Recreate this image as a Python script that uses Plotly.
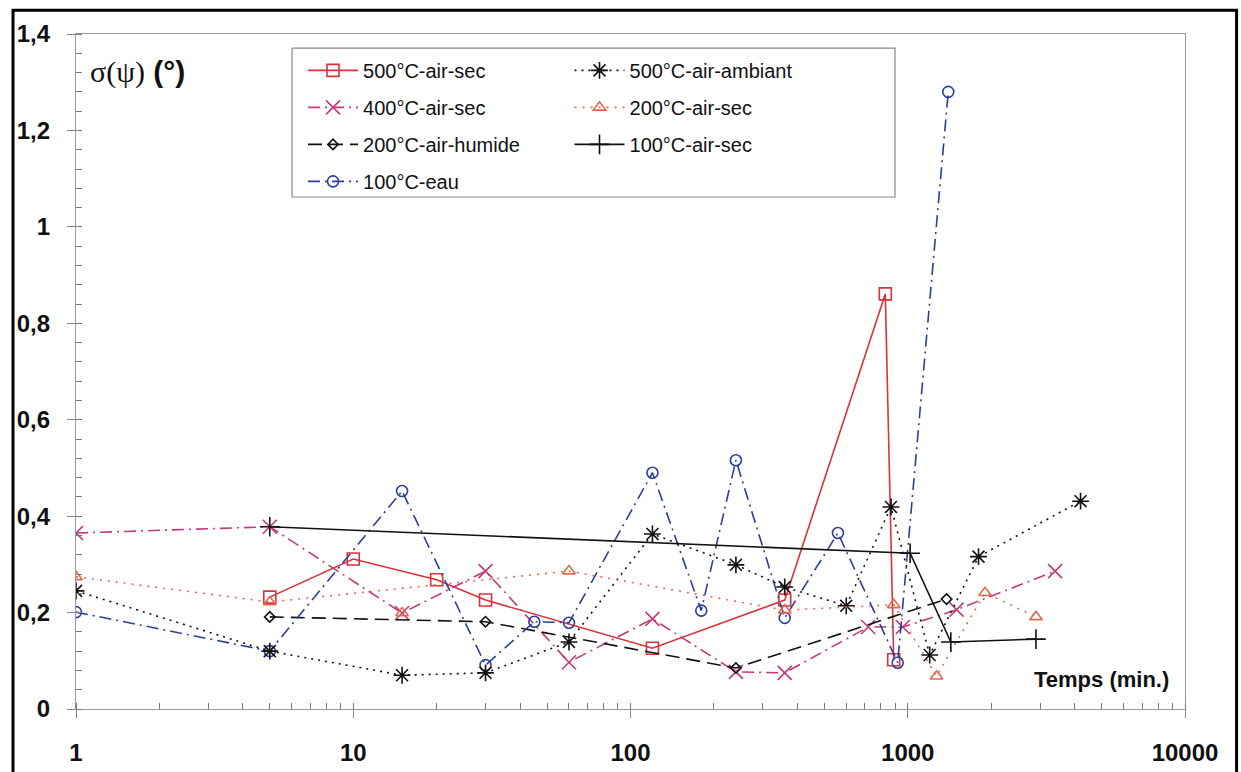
import plotly.graph_objects as go

# temps (min.) et sigma(psi) (°)
x_500_sec = [5, 10, 20, 30, 120, 360, 830, 890]
y_500_sec = [0.232, 0.311, 0.268, 0.226, 0.126, 0.226, 0.861, 0.102]

x_500_amb = [1, 5, 15, 30, 60, 120, 240, 360, 600, 870, 1200, 1800, 4200]
y_500_amb = [0.245, 0.12, 0.07, 0.075, 0.139, 0.363, 0.299, 0.253, 0.214, 0.419, 0.112, 0.316, 0.431]

x_400_sec = [1, 5, 15, 30, 60, 120, 240, 360, 720, 960, 1500, 3400]
y_400_sec = [0.365, 0.378, 0.199, 0.286, 0.097, 0.187, 0.077, 0.075, 0.17, 0.17, 0.206, 0.286]

# le triangle à 15 min n'est pas relié (None = coupure)
x_200_sec = [1, 5, 60, 360, 890, 1270, 1900, 2900, None, 15]
y_200_sec = [0.274, 0.222, 0.286, 0.205, 0.216, 0.068, 0.241, 0.191, None, 0.199]

x_200_hum = [5, 30, 240, 1380]
y_200_hum = [0.191, 0.181, 0.085, 0.228]

x_100_sec = [5, 1020, 1430, 2900]
y_100_sec = [0.378, 0.323, 0.139, 0.145]

x_100_eau = [1, 5, 15, 30, 45, 60, 120, 180, 240, 360, 560, 920, 1400]
y_100_eau = [0.201, 0.12, 0.452, 0.091, 0.181, 0.179, 0.49, 0.204, 0.516, 0.189, 0.365, 0.096, 1.28]

x_ticks = [1, 10, 100, 1000, 10000]
x_ticktext = ["1", "10", "100", "1000", "10000"]

ROUGE = "#d8333a"
MAGENTA = "#c23a7c"
SAUMON = "#e06a50"
BLEU = "#2b3f98"
NOIR = "#111111"
POLICE = "Liberation Sans, Arial, sans-serif"

series = [
    # nom, x, y, couleur, tiret, symbole, taille, légende
    ("500°C-air-sec", x_500_sec, y_500_sec, ROUGE, "solid", "square-open", 12, "legend"),
    ("400°C-air-sec", x_400_sec, y_400_sec, MAGENTA, "12px,5px,2px,5px", "x-thin-open", 14, "legend"),
    ("200°C-air-humide", x_200_hum, y_200_hum, NOIR, "14px,7px", "diamond-open", 8, "legend"),
    ("100°C-eau", x_100_eau, y_100_eau, BLEU, "12px,5px,2px,5px", "circle-open", 11, "legend"),
    ("500°C-air-ambiant", x_500_amb, y_500_amb, NOIR, "2px,5px", "asterisk-open", 14, "legend2"),
    ("200°C-air-sec", x_200_sec, y_200_sec, SAUMON, "2px,6px", "triangle-up-open", 11, "legend2"),
    ("100°C-air-sec", x_100_sec, y_100_sec, NOIR, "solid", "cross-thin-open", 14, "legend2"),
]

fig = go.Figure()
for nom, xs, ys, coul, tiret, symb, taille, leg in series:
    fig.add_trace(go.Scatter(
        x=xs, y=ys, name=nom, mode="lines+markers", legend=leg, legendgroup=nom,
        connectgaps=False,
        line=dict(color=coul, width=1.6, dash=tiret),
        marker=dict(symbol=symb, size=taille, color=coul, line=dict(width=1.6, color=coul)),
    ))

legende = dict(
    bgcolor="rgba(0,0,0,0)", borderwidth=0, tracegroupgap=8,
    font=dict(family=POLICE, size=20, color="#111"),
    xanchor="left", yanchor="top", itemwidth=50,
)

fig.update_layout(
    width=1241, height=772,
    margin=dict(l=76, r=56, t=34, b=63),
    paper_bgcolor="white", plot_bgcolor="white",
    separators=", ",
    showlegend=True,
    legend=dict(legende, x=0.2047, y=0.975),
    legend2=dict(legende, x=0.445, y=0.975),
    xaxis=dict(
        type="log", range=[0, 4], tickvals=x_ticks, ticktext=x_ticktext,
        showgrid=False, zeroline=False, automargin=False,
        showline=True, linecolor="#999", linewidth=1.2, mirror=True,
        ticks="outside", ticklen=8, tickcolor="#888", ticklabelstandoff=14,
        tickfont=dict(family=POLICE, size=24, color="#111", weight="bold"),
        minor=dict(ticks="inside", ticklen=6, tickcolor="#777", dtick="D1", showgrid=False),
    ),
    yaxis=dict(
        range=[0, 1.4], dtick=0.2,
        showgrid=False, zeroline=False, automargin=False,
        showline=True, linecolor="#999", linewidth=1.2, mirror=True,
        ticks="outside", ticklen=8, tickcolor="#888", ticklabelstandoff=12,
        tickfont=dict(family=POLICE, size=24, color="#111", weight="bold"),
        minor=dict(ticks="inside", ticklen=6, tickcolor="#777", dtick=0.04, showgrid=False),
    ),
    shapes=[
        # cadre de la légende
        dict(type="rect", xref="paper", yref="paper", x0=0.1948, x1=0.7385, y0=0.7585, y1=0.979,
             line=dict(color="#888", width=1.2), fillcolor="white", layer="above"),
        # cadre noir extérieur
        dict(type="rect", xref="paper", yref="paper", x0=-0.0568, x1=1.0465, y0=-0.12, y1=1.0353,
             line=dict(color="black", width=3), layer="above"),
    ],
    annotations=[
        dict(text="<span style='font-family:Liberation Serif, Times New Roman, serif'>σ(ψ)</span> <b>(°)</b>",
             xref="paper", yref="paper", x=0.011, y=0.944, xanchor="left", yanchor="middle",
             showarrow=False, font=dict(family=POLICE, size=30, color="#111")),
        dict(text="<b>Temps (min.)</b>", xref="paper", yref="paper", x=0.987, y=0.044,
             xanchor="right", yanchor="middle", showarrow=False,
             font=dict(family=POLICE, size=22, color="#111")),
    ],
)

# la page HTML ajoute une marge de 8 px autour du graphique : on la retire
fig.write_html("out.html", config={"displayModeBar": False},
               post_script="document.body.style.margin='0';")
